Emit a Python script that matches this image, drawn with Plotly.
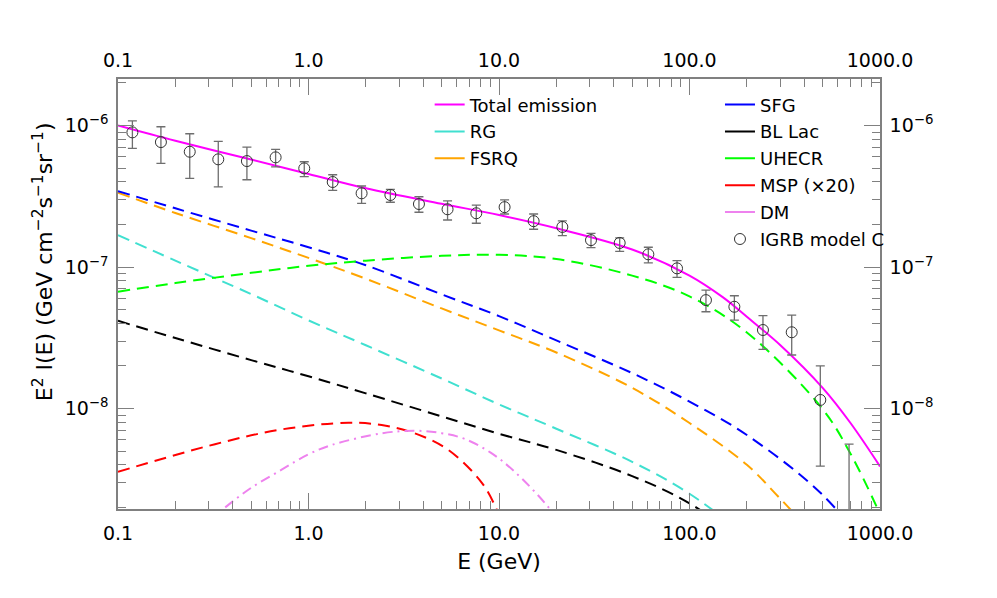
import plotly.graph_objects as go

# IGRB model C data points (E in GeV, E^2 I(E) in GeV cm^-2 s^-1 sr^-1)
igrb_e = [0.119, 0.168, 0.238, 0.336, 0.475, 0.672, 0.950, 1.34, 1.90, 2.69, 3.80, 5.37, 7.60,
          10.7, 15.2, 21.5, 30.4, 43.0, 60.8, 86.0, 122, 172, 243, 344, 486, 688]
igrb_val = [8.95e-7, 7.64e-7, 6.53e-7, 5.77e-7, 5.61e-7, 5.96e-7, 4.98e-7, 3.99e-7, 3.32e-7, 3.23e-7,
            2.79e-7, 2.56e-7, 2.40e-7, 2.65e-7, 2.11e-7, 1.92e-7, 1.55e-7, 1.48e-7, 1.23e-7, 9.79e-8,
            5.84e-8, 5.24e-8, 3.59e-8, 3.46e-8, 1.15e-8, 1.2e-9]
igrb_hi = [1.08e-6, 9.81e-7, 8.75e-7, 7.73e-7, 7.05e-7, 6.79e-7, 5.55e-7, 4.49e-7, 3.74e-7, 3.54e-7,
           3.14e-7, 2.94e-7, 2.74e-7, 2.98e-7, 2.37e-7, 2.12e-7, 1.73e-7, 1.61e-7, 1.38e-7, 1.11e-7,
           6.88e-8, 6.27e-8, 4.53e-8, 4.58e-8, 2.00e-8, 5.6e-9]
igrb_lo = [6.90e-7, 5.41e-7, 4.24e-7, 3.69e-7, 4.14e-7, 5.11e-7, 4.35e-7, 3.48e-7, 2.82e-7, 2.87e-7,
           2.44e-7, 2.15e-7, 2.04e-7, 2.37e-7, 1.85e-7, 1.67e-7, 1.37e-7, 1.29e-7, 1.07e-7, 8.46e-8,
           4.83e-8, 4.22e-8, 2.62e-8, 2.39e-8, 3.92e-9, 1e-10]

# model components
total_e = [0.1, 0.2, 0.5, 1, 2, 5, 10, 20, 50, 100, 150, 200, 300, 500, 700, 1000]
total_val = [1.0e-6, 7.8e-7, 5.75e-7, 4.55e-7, 3.6e-7, 2.8e-7, 2.33e-7, 1.88e-7, 1.33e-7, 8.7e-8,
             6.1e-8, 4.45e-8, 2.8e-8, 1.4e-8, 7.9e-9, 3.9e-9]

sfg_e = [0.1, 0.2, 0.5, 1, 2, 5, 10, 20, 50, 100, 200, 500, 1000]
sfg_val = [3.44e-7, 2.6e-7, 1.81e-7, 1.38e-7, 1.03e-7, 6.41e-8, 4.5e-8, 3.03e-8, 1.78e-8, 1.12e-8,
           6.5e-9, 2.45e-9, 8e-10]

fsrq_e = [0.1, 0.2, 0.5, 1, 2, 5, 10, 20, 50, 100, 200, 300, 500]
fsrq_val = [3.35e-7, 2.41e-7, 1.6e-7, 1.16e-7, 8.26e-8, 5.1e-8, 3.57e-8, 2.49e-8, 1.4e-8, 7.9e-9,
            4.0e-9, 2.3e-9, 1.1e-9]

rg_e = [0.1, 0.2, 0.5, 1, 2, 5, 10, 20, 50, 100, 200]
rg_val = [1.68e-7, 1.11e-7, 6.44e-8, 4.2e-8, 2.8e-8, 1.63e-8, 1.07e-8, 7.2e-9, 4.2e-9, 2.5e-9, 1.25e-9]

bllac_e = [0.1, 0.2, 0.5, 1, 2, 5, 10, 20, 50, 100, 200]
bllac_val = [4.17e-8, 3.15e-8, 2.2e-8, 1.69e-8, 1.28e-8, 8.8e-9, 6.63e-9, 5.1e-9, 3.33e-9, 2.14e-9, 1.1e-9]

uhecr_e = [0.1, 0.2, 0.5, 1, 2, 5, 10, 20, 50, 100, 200, 500, 700, 1000]
uhecr_val = [6.7e-8, 7.7e-8, 9.1e-8, 1.02e-7, 1.11e-7, 1.2e-7, 1.22e-7, 1.14e-7, 8.7e-8, 6.2e-8,
             3.45e-8, 9.9e-9, 4.8e-9, 1.8e-9]

msp_e = [0.1, 0.323, 0.723, 1.62, 2.42, 3.62, 5.42, 8.11, 9.72, 10.5]
msp_val = [3.57e-9, 5.6e-9, 7.12e-9, 7.94e-9, 7.64e-9, 6.68e-9, 5.1e-9, 3.0e-9, 1.94e-9, 1.5e-9]

dm_e = [0.3, 0.357, 0.5, 0.723, 1.0, 1.32, 2.42, 3.62, 5.0, 6.6, 9.0, 12.1, 18.5, 22]
dm_val = [1.58e-9, 1.95e-9, 2.75e-9, 3.7e-9, 4.75e-9, 5.52e-9, 6.68e-9, 6.97e-9, 6.7e-9, 6.1e-9,
          4.9e-9, 3.57e-9, 1.95e-9, 1.38e-9]

FONT = "DejaVu Sans"
AXCOL = "#808080"

fig = go.Figure()

# (name, x, y, colour, dash, legend)
curves = [
    ("Total emission", total_e, total_val, "#ff00ff", "solid", "legend"),
    ("RG", rg_e, rg_val, "#40e0d0", "12px,7px", "legend"),
    ("FSRQ", fsrq_e, fsrq_val, "#ffa500", "12px,7px", "legend"),
    ("SFG", sfg_e, sfg_val, "#0000ff", "12px,7px", "legend2"),
    ("BL Lac", bllac_e, bllac_val, "#000000", "12px,7px", "legend2"),
    ("UHECR", uhecr_e, uhecr_val, "#00ff00", "12px,7px", "legend2"),
    ("MSP (×20)", msp_e, msp_val, "#ff0000", "12px,7px", "legend2"),
    ("DM", dm_e, dm_val, "#ee82ee", "10px,5px,2px,5px", "legend2"),
]

for name, x, y, col, dash, leg in curves:
    fig.add_trace(go.Scatter(x=x, y=y, mode="lines",
                             line=dict(color=col, width=2, dash=dash, shape="spline", smoothing=1.0),
                             showlegend=False, hoverinfo="skip"))
    # legend entries are drawn with solid lines
    fig.add_trace(go.Scatter(x=[None], y=[None], mode="lines", name=name, line=dict(color=col, width=2),
                             legend=leg, legendgroup=name))

err_plus = [h - v for h, v in zip(igrb_hi, igrb_val)]
err_minus = [v - l for v, l in zip(igrb_val, igrb_lo)]
fig.add_trace(go.Scatter(
    x=igrb_e, y=igrb_val, mode="markers", name="IGRB model C",
    marker=dict(symbol="circle-open", size=11, color="#333333", line=dict(width=1)),
    error_y=dict(type="data", array=err_plus, arrayminus=err_minus, color="#6e6e6e", thickness=1.3, width=4.5),
    legend="legend2", legendgroup="igrb"))

# invisible trace to bring up the top / right axes
fig.add_trace(go.Scatter(x=[1], y=[1e-7], xaxis="x2", yaxis="y2", mode="markers",
                         marker=dict(opacity=0), showlegend=False, hoverinfo="skip"))

x_major = [0.1, 1, 10, 100, 1000]
x_text = ["0.1", "1.0", "10.0", "100.0", "1000.0"]
x_minor = [m * 10 ** d for d in range(-1, 3) for m in range(2, 10)]
y_major = [1e-8, 1e-7, 1e-6]
y_text = ["10<sup>−8</sup>", "10<sup>−7</sup>", "10<sup>−6</sup>"]
y_minor = [m * 10 ** d for d in range(-9, -5) for m in range(2, 10)]

xrange_ = [-1, 3]
yrange_ = [-8.71, -5.671]


def axis_style(major, text, minor, rng, standoff):
    return dict(type="log", range=rng, tickmode="array", tickvals=major, ticktext=text,
                ticks="inside", ticklen=16, tickcolor=AXCOL, tickwidth=1, showline=True, linecolor=AXCOL,
                linewidth=1.5, showgrid=False, zeroline=False, automargin=False, ticklabelstandoff=standoff,
                tickfont=dict(family=FONT, size=19, color="black"),
                minor=dict(tickmode="array", tickvals=minor, ticks="inside", ticklen=8,
                           tickcolor=AXCOL, showgrid=False))


fig.update_layout(
    width=989, height=590,
    margin=dict(l=110, r=117, t=71, b=89),
    paper_bgcolor="white", plot_bgcolor="white",
    font=dict(family=FONT, size=18, color="black"),
    xaxis=dict(**axis_style(x_major, x_text, x_minor, xrange_, 6),
               title=dict(text="E (GeV)", font=dict(family=FONT, size=22), standoff=11)),
    xaxis2=dict(**axis_style(x_major, x_text, x_minor, xrange_, 3), overlaying="x", side="top", anchor="y"),
    yaxis=dict(**axis_style(y_major, y_text, y_minor, yrange_, 4)),
    yaxis2=dict(**axis_style(y_major, y_text, y_minor, yrange_, 4), overlaying="y", side="right", anchor="x"),
    legend=dict(x=0.409, y=0.983, xanchor="left", yanchor="top", bgcolor="rgba(0,0,0,0)",
                traceorder="grouped", tracegroupgap=0.5, font=dict(family=FONT, size=18)),
    legend2=dict(x=0.790, y=0.983, xanchor="left", yanchor="top", bgcolor="rgba(0,0,0,0)",
                 traceorder="grouped", tracegroupgap=0.5, font=dict(family=FONT, size=18)),
    annotations=[dict(text="E<sup>2</sup> I(E) (GeV cm<sup>−2</sup>s<sup>−1</sup>sr<sup>−1</sup>)",
                      xref="paper", yref="paper", x=-0.0984, y=0.574, textangle=-90,
                      xanchor="center", yanchor="middle", showarrow=False,
                      font=dict(family=FONT, size=22, color="black"))],
)

fig.write_html("out.html")
